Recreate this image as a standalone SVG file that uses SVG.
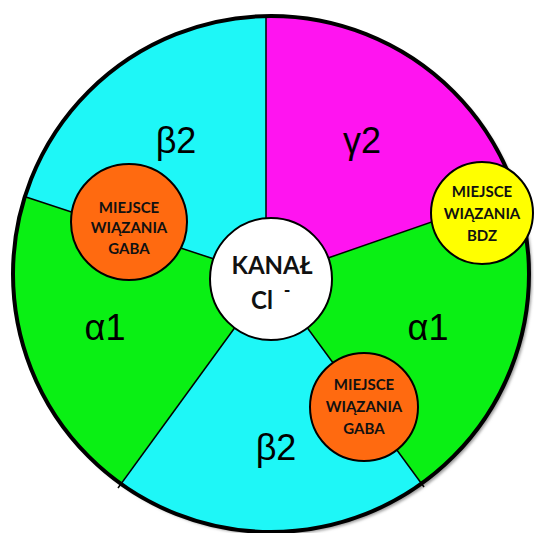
<svg xmlns="http://www.w3.org/2000/svg" width="534" height="533" viewBox="0 0 534 533">
  <style>
    .greek { font-family: "Liberation Sans", Arial, sans-serif; font-size: 36px; fill: #000; text-anchor: middle; }
    .site { font-family: Lato, "Liberation Sans", sans-serif; font-weight: bold; font-size: 15px; fill: #111; text-anchor: middle; }
    .chan { font-family: Lato, "Liberation Sans", sans-serif; font-weight: bold; fill: #111; text-anchor: middle; }
    .divider { stroke: #000; stroke-width: 1.5; fill: none; }
    .binding { stroke: #000; stroke-width: 2; }
  </style>
  <defs>
    <clipPath id="disc">
      <circle cx="271" cy="274" r="258"/>
    </clipPath>
    <filter id="soft" x="-10%" y="-10%" width="120%" height="120%">
      <feGaussianBlur stdDeviation="1.5"/>
    </filter>
  </defs>

  <!-- drop shadow of the receptor disc -->
  <circle cx="274" cy="277" r="258" fill="#9a9a9a" filter="url(#soft)"/>

  <!-- subunit sectors -->
  <g id="subunits" clip-path="url(#disc)">
    <circle cx="271" cy="274" r="258" fill="#0af014"/>
    <polygon id="beta2-top" points="271,279 266,218 266,0 0,0 0,188.5 212,258" fill="#1ef7f7"/>
    <polygon id="gamma2" points="271,279 266,218 266,0 534,0 534,187 330,257" fill="#ff14f0"/>
    <polygon id="beta2-bottom" points="271,279 84,533 458,533" fill="#1ef7f7"/>
  </g>

  <!-- sector borders -->
  <g id="connectors">
    <line class="divider" x1="266" y1="15" x2="266" y2="220"/>
    <line class="divider" x1="26" y1="197" x2="214" y2="259"/>
    <line class="divider" x1="328" y1="258" x2="518" y2="192"/>
    <line class="divider" x1="236" y1="326" x2="118" y2="488"/>
    <line class="divider" x1="306" y1="326" x2="424" y2="487"/>
  </g>

  <!-- outer rim -->
  <circle cx="271" cy="274" r="258" fill="none" stroke="#000" stroke-width="4"/>

  <!-- subunit labels -->
  <g id="labels">
    <text class="greek" x="176" y="153">β2</text>
    <text class="greek" x="362" y="153">γ2</text>
    <text class="greek" x="105" y="340">α1</text>
    <text class="greek" x="428" y="340">α1</text>
    <text class="greek" x="276" y="460">β2</text>
  </g>

  <g id="channel">
    <circle cx="271" cy="279" r="61" fill="#fff" stroke="#000" stroke-width="2"/>
    <text class="chan" x="272" y="274" font-size="24">KANAŁ</text>
    <text class="chan" x="262" y="309" font-size="24">Cl</text>
    <text class="chan" x="287" y="297" font-size="18">-</text>
  </g>

  <g id="gaba-site-1">
    <circle class="binding" cx="129" cy="222" r="58" fill="#ff6a10"/>
    <text class="site" x="129" y="213">MIEJSCE</text>
    <text class="site" x="129" y="233">WIĄZANIA</text>
    <text class="site" x="129" y="254">GABA</text>
  </g>

  <g id="bdz-site">
    <circle class="binding" cx="482" cy="213" r="51" fill="#ffff00" stroke-width="2.5"/>
    <text class="site" x="482" y="197">MIEJSCE</text>
    <text class="site" x="482" y="219">WIĄZANIA</text>
    <text class="site" x="482" y="241">BDZ</text>
  </g>

  <g id="gaba-site-2">
    <circle class="binding" cx="364" cy="407" r="54" fill="#ff6a10"/>
    <text class="site" x="364" y="390">MIEJSCE</text>
    <text class="site" x="364" y="412">WIĄZANIA</text>
    <text class="site" x="364" y="434">GABA</text>
  </g>
</svg>
